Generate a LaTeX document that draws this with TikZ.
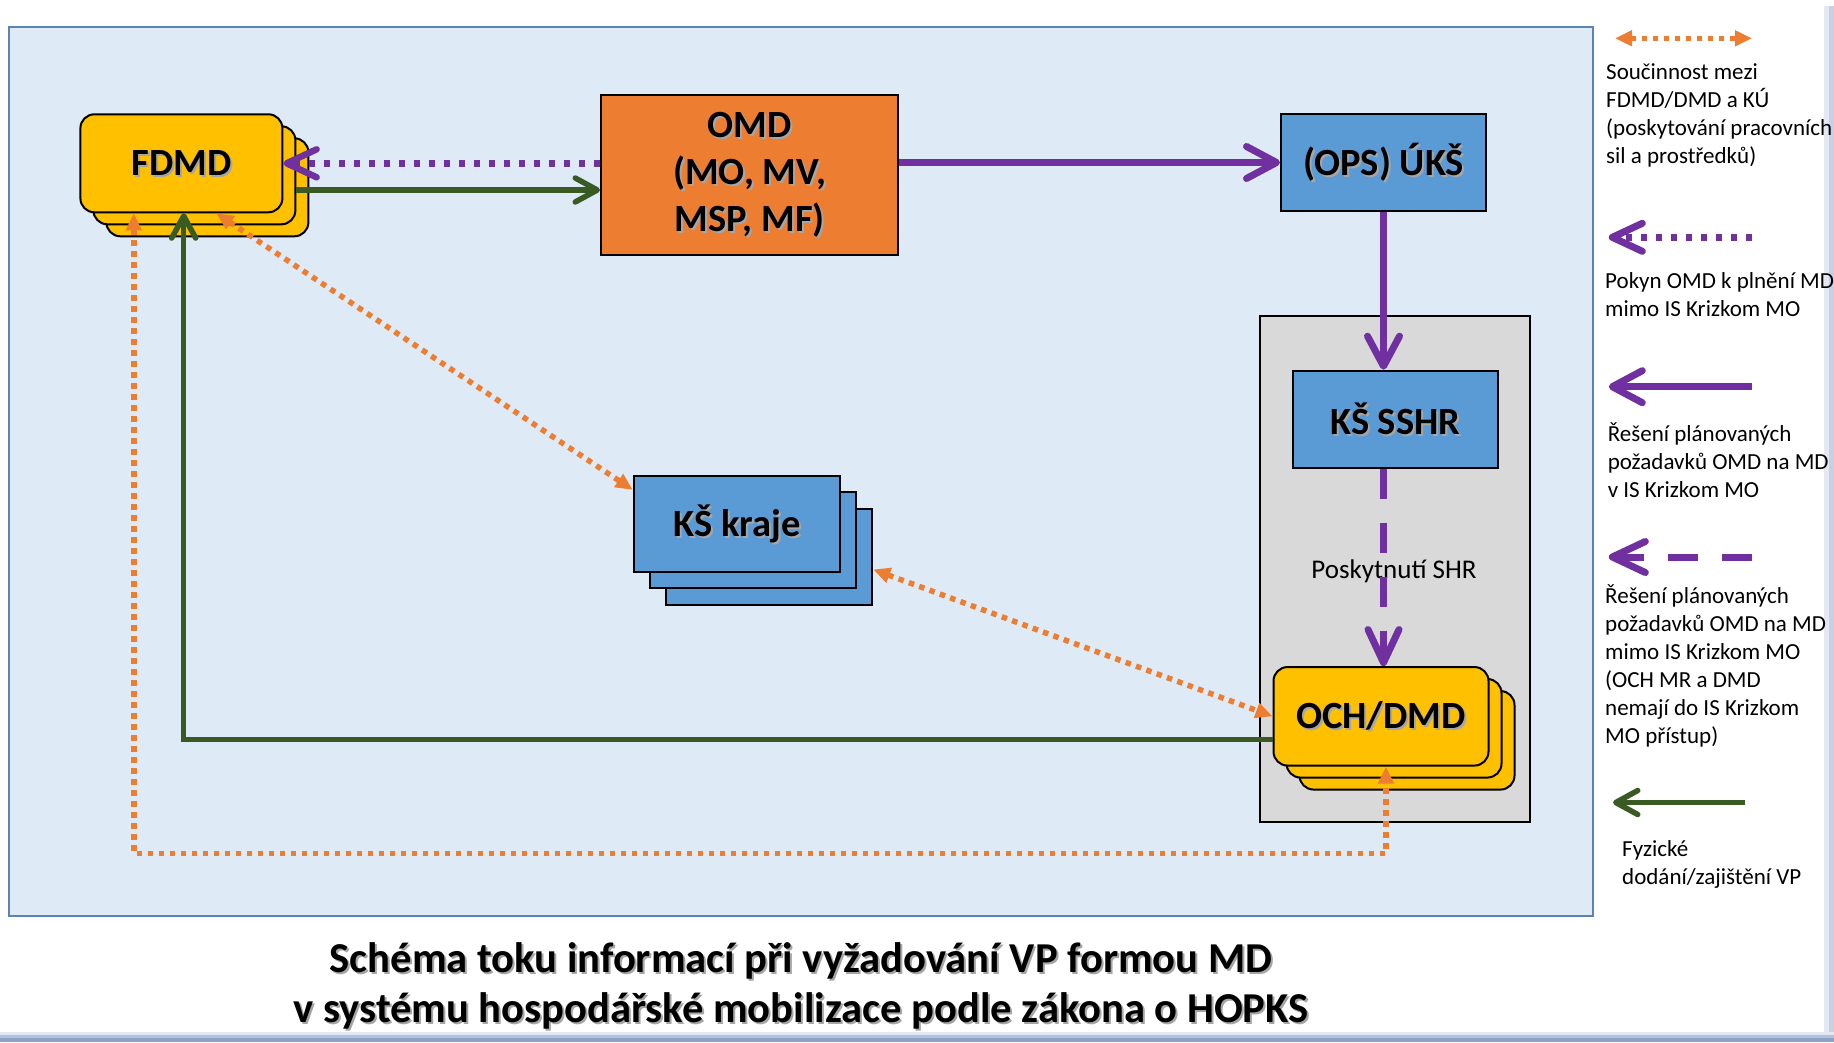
\documentclass[tikz,border=0pt]{standalone}
\usepackage{fontspec}
\setmainfont{Carlito}
\usetikzlibrary{arrows.meta}

\definecolor{panelblue}{HTML}{DEEBF7}
\definecolor{paneledge}{HTML}{5B84B1}
\definecolor{boxyellow}{HTML}{FFC000}
\definecolor{boxorange}{HTML}{ED7D31}
\definecolor{boxblue}{HTML}{5B9BD5}
\definecolor{boxgray}{HTML}{D9D9D9}
\definecolor{purp}{HTML}{7030A0}
\definecolor{darkgreen}{HTML}{3A5A24}
\definecolor{orangeline}{HTML}{ED7D31}
\definecolor{stripeA}{HTML}{E3E8F2}
\definecolor{stripeB}{HTML}{C8D1E4}
\definecolor{stripeC}{HTML}{B3C0DA}
\definecolor{stripeD}{HTML}{8EA2C6}

% bold label with a soft shadow
\newcommand{\shtxt}[1]{\makebox[0pt][l]{\smash{\hspace{2pt}\raisebox{-2pt}{\textcolor{black!35}{#1}}}}#1}

\begin{document}
\begin{tikzpicture}[x=1pt,y=1pt,yscale=-1,xscale=1,
  lbl/.style={font=\fontsize{38.5}{47}\selectfont\bfseries},
  lgd/.style={font=\fontsize{23}{28}\selectfont,inner sep=0pt,align=left},
  ybox/.style={draw=black,line width=2pt,fill=boxyellow,rounded corners=14pt,inner sep=0pt},
  fdmdbox/.style={ybox,minimum width=202pt,minimum height=98pt},
  ochbox/.style={ybox,minimum width=215pt,minimum height=98.5pt},
  bluebox/.style={draw=black,line width=2pt,fill=boxblue,inner sep=0pt,minimum width=205pt,minimum height=97pt},
  krbox/.style={bluebox,minimum width=206.5pt,minimum height=96pt},
  pline/.style={draw=purp,line width=7pt,-{Straight Barb[length=30pt,width=32pt,round]}},
  pdot/.style={draw=purp,line width=6.5pt,dash pattern=on 6.5pt off 8.5pt,-{Straight Barb[length=30pt,width=28pt,round]}},
  pdash/.style={draw=purp,line width=7pt,dash pattern=on 30pt off 24pt,-{Straight Barb[length=33pt,width=31pt,round]}},
  gline/.style={draw=darkgreen,line width=5.5pt,-{Straight Barb[length=22pt,width=24pt,round]}},
  odot/.style={draw=orangeline,line width=5.5pt,dash pattern=on 5.5pt off 5.5pt,{Triangle[length=17pt,width=15pt]}-{Triangle[length=17pt,width=15pt]}}
]
\useasboundingbox (0,0) rectangle (1834,1042);
\fill[white] (0,0) rectangle (1834,1042);

%Window edges
\fill[stripeA] (1824,6) rectangle (1829,1032);
\fill[stripeB] (1829,6) rectangle (1834,1032);
\fill[stripeA] (0,1032) rectangle (1834,1035);
\fill[stripeC] (0,1035) rectangle (1834,1038);
\fill[stripeD] (0,1038) rectangle (1834,1042);

%Shape: Rectangle [panel]
\draw[draw=paneledge,fill=panelblue,line width=1.5pt] (9,27) rectangle (1593,916);
%Shape: Rectangle [SSHR group]
\draw[draw=black,line width=2pt,fill=boxgray] (1260.3,315.7) rectangle (1529.6,821.5);

%Rounded Rect [FDMD stack]
\draw (207.4,187.3) node[fdmdbox] (FDMD3) {};
\draw (194.4,175.3) node[fdmdbox] (FDMD2) {};
\draw (181.4,163.3) node[fdmdbox,lbl] (FDMD) {\shtxt{FDMD}};

%Shape: Rectangle [OMD]
\draw (749.7,174.7) node[draw=black,line width=2pt,fill=boxorange,minimum width=297.4pt,minimum height=160pt,inner sep=0pt,lbl,align=center] (OMD) {\shtxt{OMD}\\\shtxt{(MO, MV,}\\\shtxt{MSP, MF)}};

%Shape: Rectangle [UKS, SSHR]
\draw (1383.5,162.5) node[bluebox,lbl] (UKS) {\shtxt{(OPS) ÚKŠ}};
\draw (1395.3,419.2) node[bluebox,lbl] (SSHR) {\shtxt{KŠ SSHR}};

%Shape: Rectangle [kraje stack]
\draw (769,556.7) node[krbox] (KR3) {};
\draw (753,539.7) node[krbox] (KR2) {};
\draw (737,523.7) node[krbox,lbl] (KR) {\shtxt{KŠ kraje}};

%Rounded Rect [OCH stack]
\draw (1407,740.3) node[ochbox] (OCH3) {};
\draw (1394,728.3) node[ochbox] (OCH2) {};
\draw (1381,716.3) node[ochbox,lbl] (OCH) {\shtxt{OCH/DMD}};

% Text Node
\draw (1394,571) node[font=\fontsize{27}{30}\selectfont,inner sep=0pt] (SHR) {Poskytnutí SHR};

%Connectors
\coordinate (gC) at (183.7,739.5);
\coordinate (oL) at (133.8,853.3);
\coordinate (oR) at (1386,853.3);
\draw[odot] (FDMD.south -| oL) -- (oL) -- (oR) -- (OCH.south -| oR);
\draw[odot] (FDMD.-55) -- (KR.162);
\draw[odot] (KR3.-7) -- (OCH.west);
\draw[gline] (OCH.west |- gC) -- (gC) -- (FDMD.south -| gC);
\draw[gline] (FDMD2.east |- 0,190) -- (OMD.west |- 0,190);
\draw[pdot] (OMD.west |- FDMD.east) -- (FDMD.east);
\draw[pline] (OMD.east |- UKS.west) -- (UKS.west);
\draw[pline] (UKS.south) -- (UKS.south |- SSHR.north);
\draw[pdash] (UKS.south |- SSHR.south) -- (UKS.south |- OCH.north);

%Legend
\coordinate (l1a) at (1615,38.3);
\coordinate (l1b) at (1752,38.3);
\coordinate (l2a) at (1752,237.3);
\coordinate (l2b) at (1608.8,237.3);
\coordinate (l3a) at (1752,386.7);
\coordinate (l3b) at (1608.8,386.7);
\coordinate (l4a) at (1752,557);
\coordinate (l4b) at (1608.8,557);
\coordinate (l5a) at (1744.5,802.5);
\coordinate (l5b) at (1613,802.5);
\draw[odot] (l1a) -- (l1b);
\draw[pdot,line width=7pt] (l2a) -- (l2b);
\draw[pline] (l3a) -- (l3b);
\draw[pdash] (l4a) -- (l4b);
\draw[gline] (l5a) -- (l5b);

% Text Node (anchored at the last line)
\draw (1606,163) node[anchor=base west,lgd] (T1) {Součinnost mezi\\FDMD/DMD a KÚ\\(poskytování pracovních\\sil a prostředků)};
% Text Node
\draw (1605,316.7) node[anchor=base west,lgd] (T2) {Pokyn OMD k plnění MD\\mimo IS Krizkom MO};
% Text Node
\draw (1607.6,497.7) node[anchor=base west,lgd] (T3) {Řešení plánovaných\\požadavků OMD na MD\\v IS Krizkom MO};
% Text Node
\draw (1605,743.7) node[anchor=base west,lgd] (T4) {Řešení plánovaných\\požadavků OMD na MD\\mimo IS Krizkom MO\\(OCH MR a DMD\\nemají do IS Krizkom\\MO přístup)};
% Text Node
\draw (1622,884.7) node[anchor=base west,lgd] (T5) {Fyzické\\dodání/zajištění VP};

% Title
\draw (801,1022) node[anchor=base,align=center,font=\fontsize{42.6}{50}\selectfont\bfseries,inner sep=0pt] (TTL) {\shtxt{Schéma toku informací při vyžadování VP formou MD}\\\shtxt{v systému hospodářské mobilizace podle zákona o HOPKS}};

\end{tikzpicture}
\end{document}
